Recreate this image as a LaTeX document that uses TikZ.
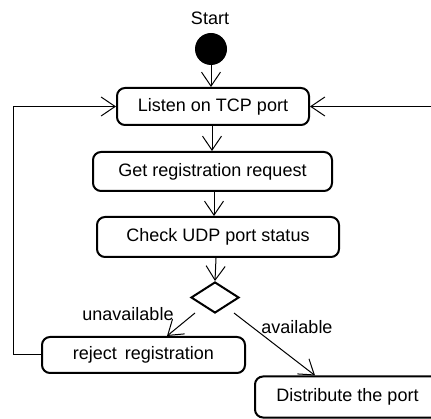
\documentclass[tikz,border=0pt]{standalone}
\usepackage{fontspec}
\setmainfont{Liberation Sans}
\usetikzlibrary{arrows.meta,shapes.geometric}
\begin{document}
\begin{tikzpicture}[x=1pt,y=-1pt,
  every node/.style={font=\fontsize{18}{20}\selectfont, inner sep=0pt},
  action/.style={draw, line width=2pt, rounded corners=8pt, align=center},
  flow/.style={draw, line width=1pt, -{Straight Barb[length=14pt,width=19pt,line width=1pt]}},
  plainline/.style={draw, line width=1pt}]
\useasboundingbox (0,0) rectangle (431,419);

% initial state
\node (startlbl) at (210,18) {Start};
\node (init) [circle, fill=black, minimum size=32pt] at (211,49) {};

% actions
\node (listen) [action, minimum width=192pt, minimum height=37pt] at (213,106.5) {Listen on TCP port};
\node (getreg) [action, minimum width=239pt, minimum height=39pt] at (212.5,171.5) {Get registration request};
\node (check)  [action, minimum width=242pt, minimum height=40pt] at (218,237) {Check UDP port status};
\node (dec) [diamond, draw, line width=2pt, minimum width=48pt, minimum height=31pt, aspect=1.55] at (215,297.5) {};
\node (reject) [action, minimum width=203pt, minimum height=36pt] at (143.5,355) {reject\, registration};
\node (dist)   [action, minimum width=185pt, minimum height=41pt] at (347.5,397) {Distribute the port};

% guard labels
\node (unav) at (128,314) {unavailable};
\node (av)   at (297,327) {available};

% flows
\draw[flow] (init) -- (listen.north -| init);
\draw[flow] ([xshift=-1pt]listen.south) -- ([xshift=-0.5pt]getreg.north);
\draw[flow] ([xshift=1.5pt]getreg.south) -- ([xshift=-4pt]check.north);
\draw[flow] ([xshift=-2pt]check.south) -- (dec.north);
\draw[flow] ([xshift=-20pt,yshift=1pt]dec.south) -- ([xshift=23.5pt]reject.north);
\draw[flow] ([xshift=19pt,yshift=1pt]dec.south) -- ([xshift=-32.5pt]dist.north);

% loop back from the rejection
\coordinate (loopc) at (13,106.5);
\draw[flow] (reject.west) -| (loopc) -- (listen.west);

% incoming flow from the right
\coordinate (rightin) at (440,106.5);
\draw[flow] (rightin) -- (listen.east);
\end{tikzpicture}
\end{document}
